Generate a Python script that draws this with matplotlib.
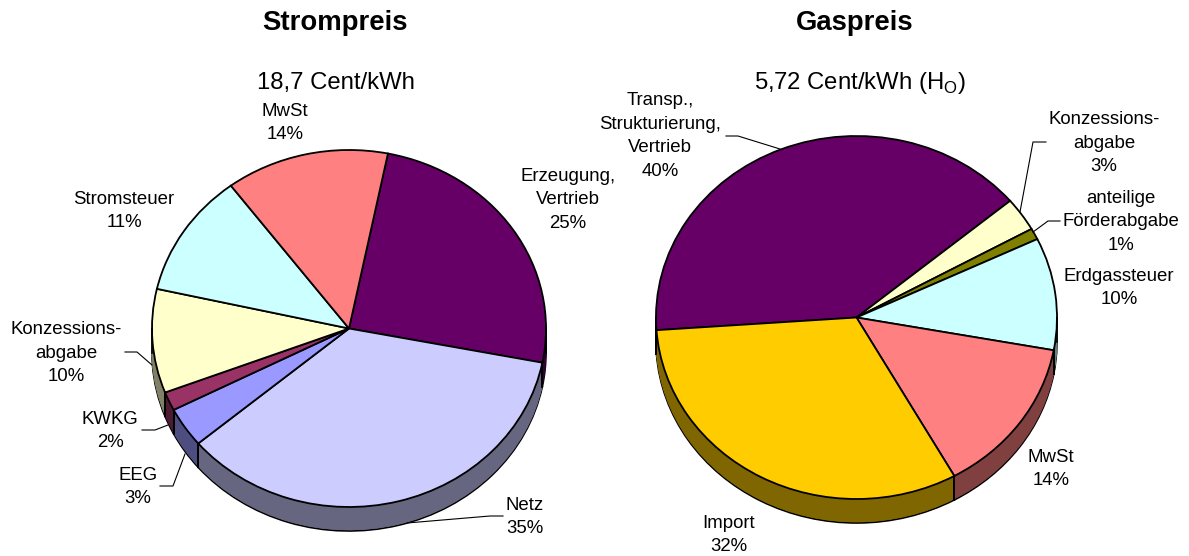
import numpy as np
import matplotlib
matplotlib.use('Agg')
import matplotlib.pyplot as plt

plt.rcParams['font.family'] = ['Liberation Sans', 'DejaVu Sans']

W, H = 1189, 556

# Strompreis (shares, pct as printed in the labels)
strom_labels = ['Erzeugung,\nVertrieb', 'Netz', 'EEG', 'KWKG', 'Konzessions-\nabgabe', 'Stromsteuer', 'MwSt']
strom_pct = [25, 35, 3, 2, 10, 11, 14]
strom_values = [24.9, 35.8, 3.6, 1.7, 9.4, 11.2, 13.4]
strom_colors = ['#660066', '#CCCCFF', '#9999FF', '#993366', '#FFFFCC', '#CCFFFF', '#FF8080']

# Gaspreis
gas_labels = ['Transp.,\nStrukturierung,\nVertrieb', 'Konzessions-\nabgabe', 'anteilige\nFörderabgabe',
              'Erdgassteuer', 'MwSt', 'Import']
gas_pct = [40, 3, 1, 10, 14, 32]
gas_values = [40, 3, 1, 10, 14, 32]
gas_colors = ['#660066', '#FFFFCC', '#808000', '#CCFFFF', '#FF8080', '#FFCC00']

strom_pos = [(568, 200), (525, 517), (138, 487), (110, 431), (66, 353), (124, 211), (285, 123)]
gas_pos = [(660, 136), (1104, 143), (1121, 222), (1119, 288), (1051, 469), (729, 535)]

strom_leaders = [[(503, 516), (490, 516), (407, 523)],
                 [(160, 486), (173, 486), (185, 454)],
                 [(142, 430), (155, 430), (168, 425)],
                 [(125, 352), (137, 352), (152, 365)]]
gas_leaders = [[(726, 136), (738, 136), (780, 149)],
               [(1046, 142), (1033, 142), (1020, 212)],
               [(1060, 221), (1048, 221), (1033, 232)]]

fig = plt.figure(figsize=(W / 100, H / 100), dpi=100)


def darker(c):
    return tuple(0.5 * v for v in matplotlib.colors.to_rgb(c))


def pie3d(values, colors, start, cx, cy, rx, ry, depth):
    ax = fig.add_axes([0, 0, 1, 1])
    ax.patch.set_alpha(0)
    dz = 1 / ry
    side = [darker(c) for c in colors]
    # die Seitenwand: viele dunkle Kreise uebereinander
    for i in range(depth, 0, -1):
        lw = 1.2 if i == depth else 0.4
        ec = 'black' if i == depth else None
        for w in ax.pie(values, colors=side, startangle=start, counterclock=False,
                        center=(0, -i * dz), radius=1, wedgeprops=dict(linewidth=lw))[0]:
            w.set_edgecolor(ec if ec else w.get_facecolor())
    wedges = ax.pie(values, colors=colors, startangle=start, counterclock=False,
                    wedgeprops=dict(linewidth=1.3, edgecolor='black'))[0]
    for w in wedges:
        for t in (w.theta1, w.theta2):
            if np.sin(np.radians(t)) < 0:
                x, y = np.cos(np.radians(t)), np.sin(np.radians(t))
                ax.plot([x, x], [y, y - depth * dz], color='black', lw=1.2)
    for x in (-1, 1):
        ax.plot([x, x], [0, -depth * dz], color='black', lw=1.2)
    ax.set_aspect('auto')
    ax.set_xlim(-cx / rx, (W - cx) / rx)
    ax.set_ylim((cy - H) / ry, cy / ry)
    ax.axis('off')


pie3d(strom_values, strom_colors, 78.6, 349, 328.5, 197, 178.5, 24)
pie3d(gas_values, gas_colors, 184, 856.5, 317.5, 200.5, 181.5, 24)

# Texte in Pixelkoordinaten
tx = fig.add_axes([0, 0, 1, 1])
tx.patch.set_alpha(0)
tx.set_xlim(0, W)
tx.set_ylim(H, 0)
tx.axis('off')

for line in strom_leaders + gas_leaders:
    tx.plot([p[0] for p in line], [p[1] for p in line], color='black', lw=0.8)

for labels, pct, pos in [(strom_labels, strom_pct, strom_pos), (gas_labels, gas_pct, gas_pos)]:
    for lab, v, p in zip(labels, pct, pos):
        tx.text(p[0], p[1], '%s\n%d%%' % (lab, v), ha='center', va='center',
                fontsize=13.4, linespacing=1.5, color='black')

tx.text(335, 29.5, 'Strompreis', ha='center', va='baseline', fontsize=19.8, fontweight='bold')
tx.text(854.5, 29.5, 'Gaspreis', ha='center', va='baseline', fontsize=19.8, fontweight='bold')
tx.text(335.5, 89, '18,7 Cent/kWh', ha='center', va='baseline', fontsize=17.2)
tx.text(859.5, 89, '5,72 Cent/kWh (H$_{\\mathregular{O}}$)', ha='center', va='baseline', fontsize=17.2)

fig.savefig('out.png', dpi=100)
